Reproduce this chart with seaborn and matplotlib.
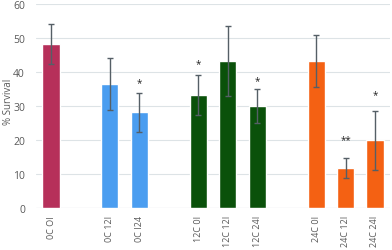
import matplotlib
matplotlib.use("Agg")
import matplotlib.pyplot as plt
import seaborn as sns
import pandas as pd

categories = ["0C OI", "0C 12I", "0C I24", "12C 0I", "12C 12I", "12C 24I",
              "24C 0I", "24C 12I", "24C 24I"]
values = [48.3, 36.6, 28.2, 33.2, 43.3, 30.0, 43.3, 11.8, 20.0]
errors = [5.8, 7.6, 5.8, 5.9, 10.4, 5.0, 7.7, 3.0, 8.7]
stars = ["", "", "*", "*", "", "*", "", "**", "*"]
star_y = [None, None, 37.0, 42.7, None, 37.6, None, 20.2, 33.4]
colors = ["#B6305A", "#4A9DF0", "#4A9DF0", "#0A510A", "#0A510A", "#0A510A",
          "#F46113", "#F46113", "#F46113"]
order = ["0C OI", " ", "0C 12I", "0C I24", "  ", "12C 0I", "12C 12I", "12C 24I",
         "   ", "24C 0I", "24C 12I", "24C 24I"]

df = pd.DataFrame({"cond": categories, "surv": values})

sns.set_style("white")
plt.rcParams["font.family"] = ["Open Sans", "DejaVu Sans"]

fig = plt.figure(figsize=(3.92, 2.51), dpi=100)
ax = fig.add_axes([36 / 392, 1 - 209.3 / 251, 354 / 392, 204 / 251])

sns.barplot(data=df, x="cond", y="surv", order=order, hue="cond",
            palette=dict(zip(categories, colors)), legend=False,
            width=0.58, ax=ax, saturation=1, errorbar=None)

pos = [order.index(c) for c in categories]
ax.errorbar(pos, values, yerr=errors, fmt="none", ecolor="#555f66",
            elinewidth=1.0, capsize=2.5, capthick=1.0, zorder=5)
for p, s, y in zip(pos, stars, star_y):
    if s:
        ax.text(p, y, s, ha="center", va="center", fontsize=7, color="#222222")

ax.set_ylim(0, 60)
ax.set_xlim(-0.51, 11.51)
ax.set_yticks([0, 10, 20, 30, 40, 50, 60])
ax.yaxis.grid(True, color="#dde3e6", linewidth=0.8)
ax.set_axisbelow(True)
for s in ax.spines.values():
    s.set_visible(False)
ax.axhline(0, color="#d5dadd", linewidth=0.8, zorder=0)

ax.set_xticks(range(len(order)))
ax.set_xticklabels(order, rotation=90, fontsize=6.5, color="#595959")
ax.tick_params(axis="x", length=0, pad=5)
ax.tick_params(axis="y", length=0, labelsize=7.5, labelcolor="#595959", pad=8)
ax.set_xlabel("")
ax.set_ylabel("% Survival", fontsize=7, color="#595959")
ax.yaxis.set_label_coords((14 - 36) / 354, (209.3 - 102) / 204)

fig.savefig("out.png", dpi=100)
